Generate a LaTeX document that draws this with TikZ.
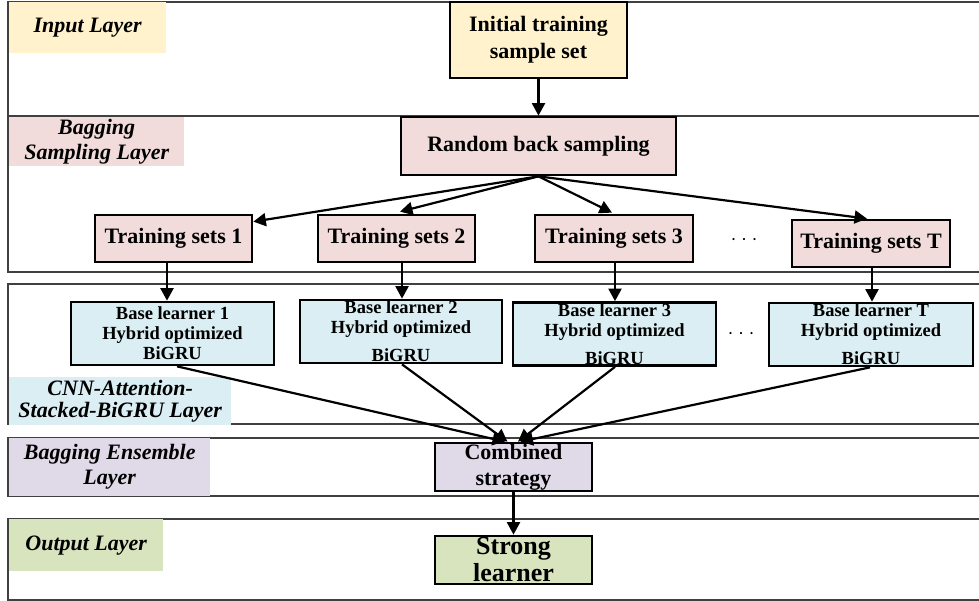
\documentclass[tikz,border=0pt]{standalone}
\usepackage{fontspec}
\setmainfont{Liberation Serif}
\usetikzlibrary{arrows.meta}
\definecolor{cyel}{HTML}{FFF2CC}
\definecolor{cpink}{HTML}{F2DCDB}
\definecolor{cblue}{HTML}{DAEEF3}
\definecolor{cpurp}{HTML}{E0DAE8}
\definecolor{cgreen}{HTML}{D7E4BD}
\begin{document}
\begin{tikzpicture}[x=1pt,y=-1pt,
  band/.style={draw=black!75, line width=1.2pt},
  lab/.style={fill=#1, inner sep=0pt, anchor=north west, align=center, font=\fontsize{22}{25}\selectfont\bfseries\itshape},
  box/.style={draw=black, line width=2.7pt, fill=#1, inner sep=0pt, align=center, font=\fontsize{22}{27}\selectfont\bfseries},
  tsbox/.style={box=cpink, minimum width=157pt, minimum height=47pt},
  blbox/.style={box=cblue, minimum width=203pt, minimum height=63pt, font=\fontsize{18.5}{20}\selectfont\bfseries},
  arr/.style={line width=2.2pt, -{Triangle[length=12.5pt,width=13pt]}},
  dots/.style={font=\fontsize{18}{18}\selectfont, inner sep=0pt}
]
\useasboundingbox (0,0) rectangle (979,601);
% bands
\draw[band] (979,2) -- (8,2) -- (8,116) -- (979,116);
\draw[band] (979,116) -- (8,116) -- (8,272) -- (979,272);
\draw[band] (979,284) -- (8,284) -- (8,424) -- (979,424);
\draw[band] (979,438) -- (8,438) -- (8,496) -- (979,496);
\draw[band] (979,519) -- (8,519) -- (8,600) -- (979,600);
% layer labels
\node[lab=cyel, minimum width=157pt, minimum height=51pt] (lin) at (9,2) {Input Layer};
\node[lab=cpink, minimum width=175pt, minimum height=49pt] (lbs) at (9,117) {Bagging\\Sampling Layer};
\node[lab=cblue, minimum width=222pt, minimum height=48pt, font=\fontsize{22}{22}\selectfont\bfseries\itshape] (lcnn) at (9,377) {CNN-Attention-\\Stacked-BiGRU Layer};
\node[lab=cpurp, minimum width=201pt, minimum height=58pt] (lens) at (9,438) {Bagging Ensemble\\Layer};
\node[lab=cgreen, minimum width=154pt, minimum height=52pt] (lout) at (9,519) {Output Layer};
% boxes
\node[box=cyel, minimum width=177pt, minimum height=76pt] (init) at (538.5,40) {Initial training\\sample set};
\node[box=cpink, minimum width=275pt, minimum height=58pt] (rbs) at (538.5,146) {Random back sampling};
\node[tsbox] (ts1) at (173.5,238.5) {Training sets 1};
\node[tsbox] (ts2) at (396.5,238.5) {Training sets 2};
\node[tsbox, minimum width=158pt] (ts3) at (614,238.5) {Training sets 3};
\node[tsbox, minimum width=158pt] (tsT) at (871,243.5) {Training sets T};
\node[dots] (d1) at (744,242) {· · ·};
\node[blbox] (bl1) at (172.5,333.5) {Base learner 1\\Hybrid optimized\\BiGRU};
\node[blbox, minimum width=202pt] (bl2) at (401,331.5) {Base learner 2\\Hybrid optimized\\[8pt]BiGRU};
\node[blbox] (bl3) at (614.5,334) {Base learner 3\\Hybrid optimized\\[8pt]BiGRU};
\node[blbox, minimum width=204pt] (blT) at (871,334.5) {Base learner T\\Hybrid optimized\\[8pt]BiGRU};
\node[dots] (d2) at (741,336) {· · ·};
\node[box=cpurp, minimum width=157pt, minimum height=48pt, font=\fontsize{22}{26}\selectfont\bfseries] (comb) at (513.5,467) {Combined\\strategy};
\node[box=cgreen, minimum width=157pt, minimum height=48pt, font=\fontsize{26}{27}\selectfont\bfseries] (strong) at (513.5,560) {Strong\\learner};
% connectors
\draw[arr] (init) -- (rbs);
\draw[arr] (rbs.south) -- ([yshift=-8pt]ts1.north east);
\draw[arr] (rbs.south) -- ([xshift=3.5pt,yshift=2pt]ts2.north);
\draw[arr] (rbs.south) -- ([xshift=-2pt,yshift=1pt]ts3.north);
\draw[arr] (rbs.south) -- ([xshift=-4pt]tsT.north);
\draw[arr] ([xshift=-6.5pt]ts1.south) -- ([xshift=-5.5pt]bl1.north);
\draw[arr] ([xshift=5.5pt]ts2.south) -- ([xshift=1pt]bl2.north);
\draw[arr] ([xshift=1pt]ts3.south) -- ([xshift=0.5pt]bl3.north);
\draw[arr] ([xshift=1pt]tsT.south) -- ([xshift=1pt]blT.north);
\draw[arr] ([xshift=4.5pt]bl1.south) -- ([xshift=-8.5pt]comb.north);
\draw[arr] ([xshift=1pt]bl2.south) -- ([xshift=-6pt]comb.north);
\draw[arr] ([xshift=0.5pt]bl3.south) -- ([xshift=4.5pt]comb.north);
\draw[arr] ([xshift=-1pt]blT.south) -- ([xshift=7pt]comb.north);
\draw[arr] (comb) -- (strong);
\end{tikzpicture}
\end{document}
